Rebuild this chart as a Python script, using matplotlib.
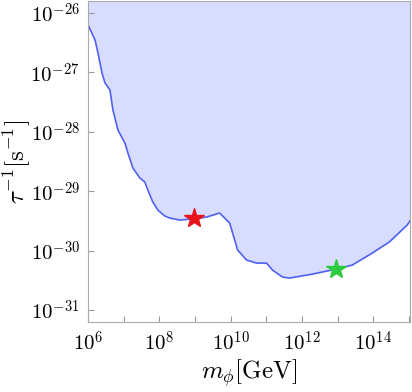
import matplotlib
matplotlib.use("Agg")
import matplotlib.pyplot as plt
import numpy as np

plt.rcParams['mathtext.fontset'] = 'cm'
plt.rcParams['font.family'] = 'serif'
plt.rcParams['font.serif'] = ['DejaVu Serif']

# bound curve (log10 values)
log_m = [6.00, 6.196, 6.28, 6.392, 6.476, 6.615, 6.699, 6.839, 7.035, 7.119, 7.259,
         7.455, 7.594, 7.678, 7.818, 7.958, 8.154, 8.294, 8.573, 8.965, 9.329, 9.692,
         9.972, 10.056, 10.196, 10.448, 10.727, 11.007, 11.175, 11.455, 11.650,
         12.294, 12.965, 13.413, 13.972, 14.448, 14.951, 15.03]
log_tau = [-26.20, -26.455, -26.673, -27.010, -27.178, -27.296, -27.633, -27.970,
           -28.189, -28.357, -28.609, -28.778, -28.845, -28.980, -29.182, -29.316,
           -29.418, -29.451, -29.485, -29.465, -29.434, -29.367, -29.535, -29.704,
           -29.990, -30.158, -30.209, -30.209, -30.327, -30.444, -30.461, -30.394,
           -30.31, -30.242, -30.040, -29.855, -29.569, -29.50]

star_m = [9.2e8, 9.2e12]
star_tau = [3.5e-30, 4.9e-31]
star_colors = ['#e8141c', '#2ecc40']

m = 10 ** np.array(log_m)
tau = 10 ** np.array(log_tau)

fig = plt.figure(figsize=(4.12, 3.92), dpi=100)
ax = fig.add_axes([88 / 412, 1 - 322 / 392, 322 / 412, 321 / 392])

ax.fill_between(m, tau, 1e-25, color='#d8dcff', lw=0)
ax.plot(m, tau, color='#5060f0', lw=1.2)
for xm, yt, c in zip(star_m, star_tau, star_colors):
    ax.plot(xm, yt, marker='*', ms=15, color=c, mec=c, ls='none', zorder=5)

ax.set_xscale('log')
ax.set_yscale('log')
ax.set_xlim(1e6, 10 ** 15.03)
ax.set_ylim(10 ** -31.2, 10 ** -25.8)

ax.set_xticks([10.0 ** k for k in range(6, 16)])
ax.set_xticklabels(['$10^{%d}$' % k if k % 2 == 0 else '' for k in range(6, 16)])
ax.set_yticks([10.0 ** k for k in range(-31, -25)])
ax.set_yticklabels(['$10^{%d}$' % k for k in range(-31, -25)])
ax.minorticks_off()
ax.tick_params(direction='in', length=4, color='#999999', labelsize=15, pad=6)

for s in ax.spines.values():
    s.set_color('#aaaaaa')
    s.set_linewidth(0.8)

ax.set_xlabel(r'$m_\phi[\mathrm{GeV}]$', fontsize=18, labelpad=2)
ax.set_ylabel(r'$\tau^{-1}[\mathrm{s}^{-1}]$', fontsize=18)
ax.yaxis.set_label_coords(-0.172, 0.5)

fig.savefig('out.png', dpi=100)
